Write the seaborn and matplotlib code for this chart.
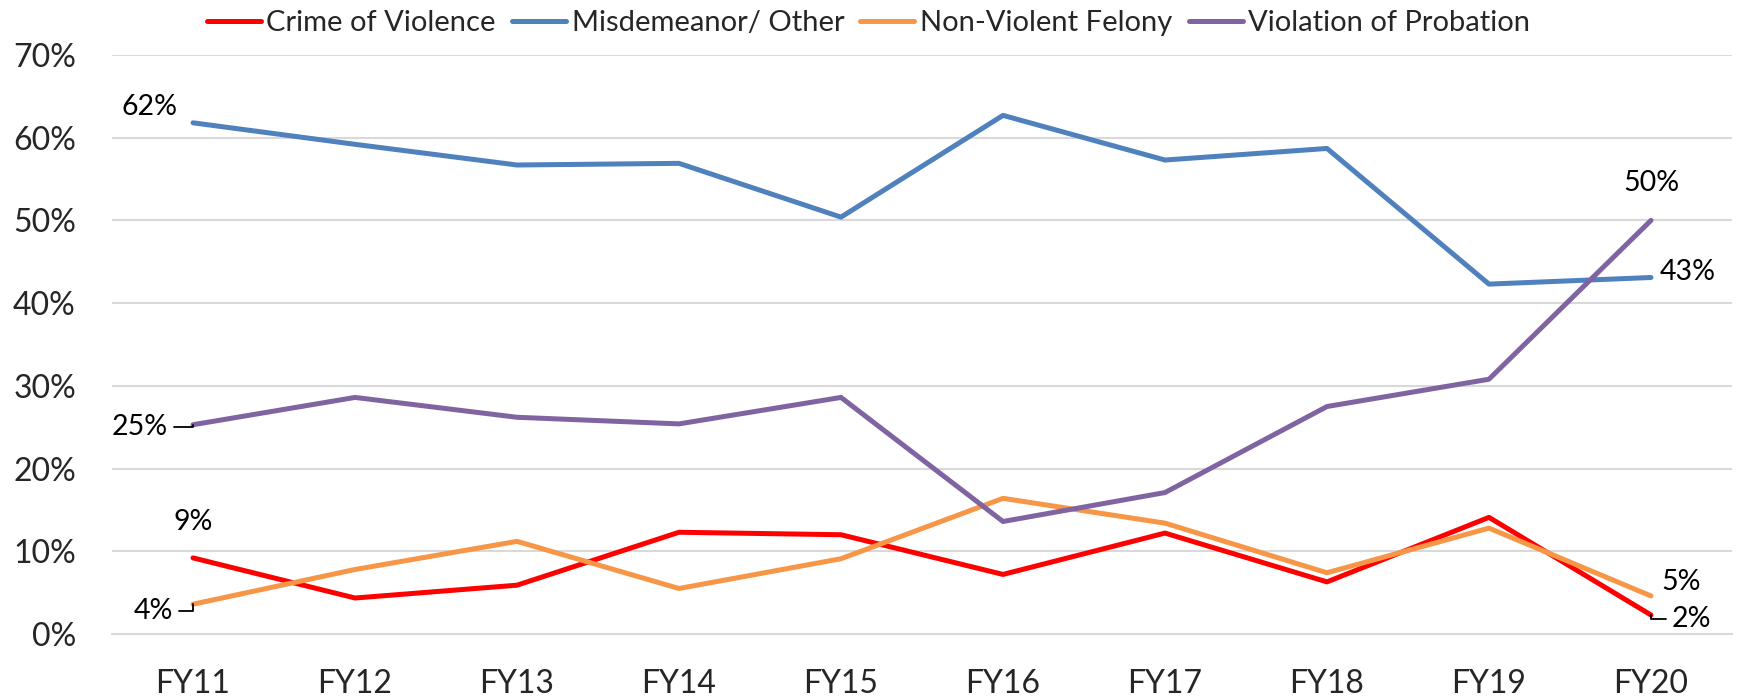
import numpy as np
import pandas as pd
import matplotlib.pyplot as plt
import seaborn as sns
from matplotlib.ticker import FuncFormatter

# ------------------------------------------
# Data (percent of cases per fiscal year)
# ------------------------------------------
years = ["FY11", "FY12", "FY13", "FY14", "FY15", "FY16", "FY17", "FY18", "FY19", "FY20"]
crime_of_violence = [9.2, 4.35, 5.9, 12.3, 12.0, 7.2, 12.2, 6.3, 14.1, 2.3]
misdemeanor_other = [61.8, 59.2, 56.7, 56.9, 50.4, 62.7, 57.3, 58.7, 42.3, 43.1]
non_violent_felony = [3.6, 7.8, 11.2, 5.5, 9.1, 16.4, 13.4, 7.4, 12.8, 4.6]
violation_of_probation = [25.3, 28.6, 26.2, 25.4, 28.6, 13.6, 17.1, 27.5, 30.8, 50.0]

series_names = ["Crime of Violence", "Misdemeanor/ Other", "Non-Violent Felony", "Violation of Probation"]
series_values = [crime_of_violence, misdemeanor_other, non_violent_felony, violation_of_probation]
colors = ["#FF0000", "#4F81BD", "#F79646", "#8064A2"]

df = pd.DataFrame({
    "Year": years * 4,
    "Share": sum(series_values, []),
    "Type": [name for name in series_names for _ in years],
})

# ------------------------------------------
# Style
# ------------------------------------------
sns.set_style("white")
plt.rcParams["font.family"] = ["Lato", "DejaVu Sans"]

fig = plt.figure(figsize=(17.37, 6.97), dpi=100)
ax = fig.add_axes([0.0645, 0.0904, 0.9326, 0.8307])

sns.lineplot(
    data=df, x="Year", y="Share", hue="Type",
    hue_order=series_names, palette=colors,
    linewidth=3.6, sort=False, ax=ax, legend=True,
)

# axes
ax.set_xlim(-0.5, 9.5)
ax.set_ylim(0, 70)
ax.set_yticks(np.arange(0, 71, 10))
ax.yaxis.set_major_formatter(FuncFormatter(lambda v, p: f"{v:.0f}%"))
ax.set_xlabel("")
ax.set_ylabel("")
ax.yaxis.grid(True, color="#d9d9d9", linewidth=1.5)
ax.set_axisbelow(True)
for side in ["top", "right", "left"]:
    ax.spines[side].set_visible(False)
ax.spines["bottom"].set_color("#d9d9d9")
ax.spines["bottom"].set_linewidth(1.5)

ax.tick_params(axis="y", length=0, pad=26, labelsize=23)
ax.tick_params(axis="x", which="major", length=0, pad=25, labelsize=23)
ax.set_xticks(np.arange(-0.5, 10, 1), minor=True)
ax.tick_params(axis="x", which="minor", direction="in", length=8, width=1.5, color="#d9d9d9")

# ------------------------------------------
# Data labels (first and last points)
# ------------------------------------------
label_specs = [
    # series index, point index, dx, dy, ha, va, leader
    (1, 0, -16, 16, "right", "center", False),
    (3, 0, -25, -2, "right", "center", True),
    (0, 0, 0, 36, "center", "center", False),
    (2, 0, -20, -7, "right", "center", True),
    (3, 9, 0, 37, "center", "center", False),
    (1, 9, 9, 5, "left", "center", False),
    (2, 9, 10, 14, "left", "center", False),
    (0, 9, 21, -4, "left", "center", True),
]
for s, i, dx, dy, ha, va, leader in label_specs:
    v = series_values[s][i]
    arrow = None
    if leader:
        arrow = dict(arrowstyle="-", color="black", lw=1.3, shrinkA=2, shrinkB=0,
                     connectionstyle="angle,angleA=0,angleB=90,rad=0")
    ax.annotate(f"{round(v)}%", xy=(i, v), xytext=(dx, dy), textcoords="offset pixels",
                ha=ha, va=va, fontsize=20.5, color="black", arrowprops=arrow)

# ------------------------------------------
# Legend on top
# ------------------------------------------
handles, labels = ax.get_legend_handles_labels()
ax.get_legend().remove()
fig.legend(handles, labels, loc="center", bbox_to_anchor=(0.5, 0.967), ncol=4,
           frameon=False, fontsize=21, handlelength=1.85, handletextpad=0.2,
           columnspacing=0.55)

plt.savefig("out.png", dpi=100)
